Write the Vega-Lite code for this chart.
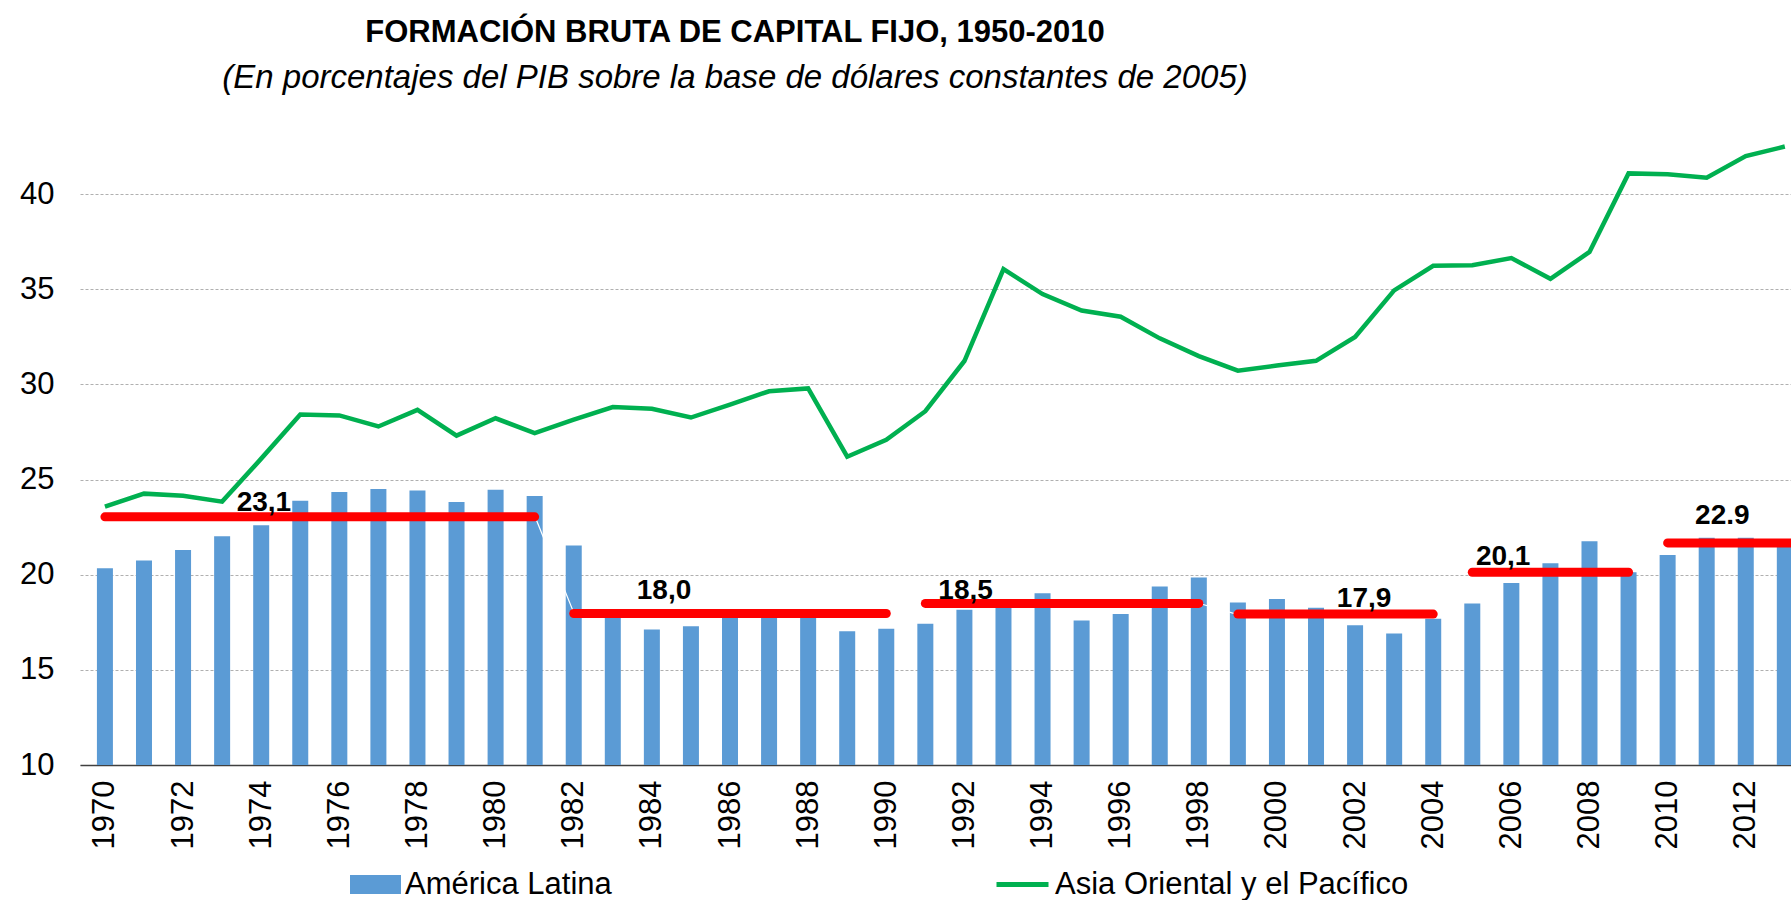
{
  "$schema": "https://vega.github.io/schema/vega-lite/v6.json",
  "width": 1711,
  "height": 647,
  "autosize": {"type": "none"},
  "padding": {"left": 80, "top": 118, "right": 0, "bottom": 135},
  "background": "white",
  "config": {"view": {"stroke": null}, "font": "Liberation Sans"},
  "title": {
    "text": "FORMACIÓN BRUTA DE CAPITAL FIJO, 1950-2010",
    "subtitle": "(En porcentajes del PIB sobre la base de dólares constantes de 2005)",
    "anchor": "start",
    "align": "center",
    "frame": "group",
    "dx": 655,
    "offset": 22,
    "font": "Liberation Sans",
    "fontSize": 31,
    "fontWeight": "bold",
    "color": "black",
    "subtitleFont": "Liberation Sans",
    "subtitleFontSize": 33,
    "subtitleFontStyle": "italic",
    "subtitleColor": "black",
    "subtitlePadding": 13
  },
  "datasets": {
    "years": [
      {"year": 1970, "al": 20.34, "asia": 23.58, "avg": 23.1},
      {"year": 1971, "al": 20.75, "asia": 24.26, "avg": 23.1},
      {"year": 1972, "al": 21.30, "asia": 24.15, "avg": 23.1},
      {"year": 1973, "al": 22.02, "asia": 23.84, "avg": 23.1},
      {"year": 1974, "al": 22.60, "asia": 26.10, "avg": 23.1},
      {"year": 1975, "al": 23.89, "asia": 28.42, "avg": 23.1},
      {"year": 1976, "al": 24.35, "asia": 28.37, "avg": 23.1},
      {"year": 1977, "al": 24.50, "asia": 27.79, "avg": 23.1},
      {"year": 1978, "al": 24.43, "asia": 28.66, "avg": 23.1},
      {"year": 1979, "al": 23.82, "asia": 27.31, "avg": 23.1},
      {"year": 1980, "al": 24.46, "asia": 28.22, "avg": 23.1},
      {"year": 1981, "al": 24.13, "asia": 27.44, "avg": 23.1},
      {"year": 1982, "al": 21.54, "asia": 28.15, "avg": 18.0},
      {"year": 1983, "al": 18.00, "asia": 28.81, "avg": 18.0},
      {"year": 1984, "al": 17.12, "asia": 28.72, "avg": 18.0},
      {"year": 1985, "al": 17.29, "asia": 28.26, "avg": 18.0},
      {"year": 1986, "al": 17.90, "asia": 28.94, "avg": 18.0},
      {"year": 1987, "al": 18.00, "asia": 29.64, "avg": 18.0},
      {"year": 1988, "al": 17.90, "asia": 29.79, "avg": 18.0},
      {"year": 1989, "al": 17.03, "asia": 26.20, "avg": 18.0},
      {"year": 1990, "al": 17.16, "asia": 27.09, "avg": 18.0},
      {"year": 1991, "al": 17.42, "asia": 28.59, "avg": 18.5},
      {"year": 1992, "al": 18.16, "asia": 31.23, "avg": 18.5},
      {"year": 1993, "al": 18.40, "asia": 36.06, "avg": 18.5},
      {"year": 1994, "al": 19.03, "asia": 34.75, "avg": 18.5},
      {"year": 1995, "al": 17.60, "asia": 33.88, "avg": 18.5},
      {"year": 1996, "al": 17.94, "asia": 33.56, "avg": 18.5},
      {"year": 1997, "al": 19.38, "asia": 32.42, "avg": 18.5},
      {"year": 1998, "al": 19.85, "asia": 31.49, "avg": 18.5},
      {"year": 1999, "al": 18.54, "asia": 30.72, "avg": 17.9},
      {"year": 2000, "al": 18.72, "asia": 30.99, "avg": 17.9},
      {"year": 2001, "al": 18.27, "asia": 31.24, "avg": 17.9},
      {"year": 2002, "al": 17.34, "asia": 32.49, "avg": 17.9},
      {"year": 2003, "al": 16.91, "asia": 34.94, "avg": 17.9},
      {"year": 2004, "al": 17.68, "asia": 36.23, "avg": 17.9},
      {"year": 2005, "al": 18.49, "asia": 36.26, "avg": 20.1},
      {"year": 2006, "al": 19.56, "asia": 36.64, "avg": 20.1},
      {"year": 2007, "al": 20.60, "asia": 35.55, "avg": 20.1},
      {"year": 2008, "al": 21.76, "asia": 36.96, "avg": 20.1},
      {"year": 2009, "al": 20.13, "asia": 41.09, "avg": 20.1},
      {"year": 2010, "al": 21.03, "asia": 41.04, "avg": 21.7},
      {"year": 2011, "al": 21.94, "asia": 40.86, "avg": 21.7},
      {"year": 2012, "al": 21.94, "asia": 42.00, "avg": 21.7},
      {"year": 2013, "al": 21.60, "asia": 42.50, "avg": 21.7}
    ],
    "periods": [
      {"start": 1970, "end": 1981, "val": 23.04, "label": "23,1", "labelYear": 1974.07, "labelValue": 23.77},
      {"start": 1982, "end": 1990, "val": 17.96, "label": "18,0", "labelYear": 1984.31, "labelValue": 19.16},
      {"start": 1991, "end": 1998, "val": 18.49, "label": "18,5", "labelYear": 1992.03, "labelValue": 19.16},
      {"start": 1999, "end": 2004, "val": 17.93, "label": "17,9", "labelYear": 2002.23, "labelValue": 18.74},
      {"start": 2005, "end": 2009, "val": 20.13, "label": "20,1", "labelYear": 2005.79, "labelValue": 20.92},
      {"start": 2010, "end": 2013.2, "val": 21.67, "label": "22.9", "labelYear": 2011.4, "labelValue": 23.10}
    ]
  },
  "layer": [
    {
      "data": {"name": "years"},
      "mark": {"type": "bar", "size": 16, "clip": true},
      "encoding": {
        "x": {
          "field": "year", "type": "quantitative", "title": null,
          "scale": {"domain": [1969.49, 2013.03], "nice": false, "zero": false},
          "axis": {
            "values": [1970,1972,1974,1976,1978,1980,1982,1984,1986,1988,1990,1992,1994,1996,1998,2000,2002,2004,2006,2008,2010,2012],
            "format": "d", "labelAngle": -90, "labelFontSize": 31, "labelFont": "Liberation Sans",
            "labelColor": "black", "labelPadding": 15, "ticks": false, "grid": false,
            "domainColor": "#404040", "domainWidth": 1.5, "labelFlush": false,
            "labelOverlap": false, "labelBound": false
          }
        },
        "y": {
          "field": "al", "type": "quantitative", "title": null,
          "scale": {"domain": [10, 44], "nice": false, "zero": false},
          "axis": {
            "values": [10, 15, 20, 25, 30, 35, 40],
            "grid": true, "gridColor": "#b0b0b0", "gridDash": [3, 2], "gridWidth": 1,
            "domain": false, "ticks": false, "labelFontSize": 31, "labelFont": "Liberation Sans",
            "labelColor": "black", "labelPadding": 26
          }
        },
        "fill": {
          "datum": "América Latina",
          "scale": {"range": ["#5b9bd5"]},
          "legend": {
            "title": null, "orient": "none", "legendX": 270, "legendY": 741, "padding": 0,
            "symbolType": "M-1,-0.3725H1V0.3725H-1Z", "symbolSize": 2601, "symbolStrokeWidth": 0,
            "labelFontSize": 31, "labelFont": "Liberation Sans", "labelColor": "black",
            "labelOffset": 4, "labelLimit": 600
          }
        }
      }
    },
    {
      "data": {"name": "years"},
      "mark": {"type": "line", "color": "white", "strokeWidth": 1.2, "clip": true},
      "encoding": {
        "x": {"field": "year", "type": "quantitative", "title": null},
        "y": {"field": "avg", "type": "quantitative", "title": null}
      }
    },
    {
      "data": {"name": "years"},
      "mark": {"type": "line", "strokeWidth": 4.5, "clip": true},
      "encoding": {
        "x": {"field": "year", "type": "quantitative", "title": null},
        "y": {"field": "asia", "type": "quantitative", "title": null},
        "stroke": {
          "datum": "Asia Oriental y el Pacífico",
          "scale": {"range": ["#00b050"]},
          "legend": {
            "title": null, "orient": "none", "legendX": 914, "legendY": 738, "padding": 0,
            "symbolType": "stroke", "symbolSize": 2704, "symbolStrokeWidth": 5,
            "labelFontSize": 31, "labelFont": "Liberation Sans", "labelColor": "black",
            "labelOffset": 4, "labelLimit": 600
          }
        }
      }
    },
    {
      "data": {"name": "periods"},
      "mark": {"type": "rule", "color": "#ff0000", "strokeWidth": 9, "strokeCap": "round", "clip": true},
      "encoding": {
        "x": {"field": "start", "type": "quantitative", "title": null},
        "x2": {"field": "end"},
        "y": {"field": "val", "type": "quantitative", "title": null}
      }
    },
    {
      "data": {"name": "periods"},
      "mark": {"type": "text", "font": "Liberation Sans", "fontSize": 28, "fontWeight": "bold", "color": "black", "align": "center", "baseline": "middle"},
      "encoding": {
        "x": {"field": "labelYear", "type": "quantitative", "title": null},
        "y": {"field": "labelValue", "type": "quantitative", "title": null},
        "text": {"field": "label"}
      }
    }
  ]
}
